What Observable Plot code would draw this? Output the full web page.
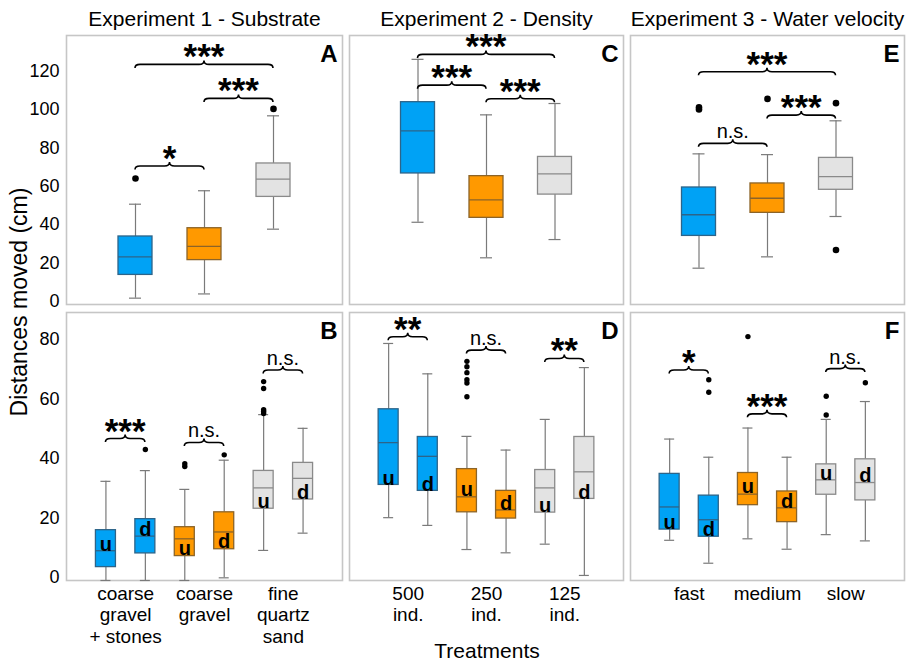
<!DOCTYPE html>
<html><head><meta charset="utf-8">
<script src="https://cdn.jsdelivr.net/npm/d3@7"></script>
<script src="https://cdn.jsdelivr.net/npm/@observablehq/plot@0.6"></script>
<style>
body{margin:0;background:#fff;}
#fig{position:relative;width:906px;height:662px;font-family:"Liberation Sans",Arial,sans-serif;color:#000;overflow:hidden;}
.ylab{position:absolute;left:19px;top:302px;transform:translate(-50%,-50%) rotate(-90deg);font-size:23px;line-height:1;white-space:nowrap;}
.xlab{position:absolute;left:487px;top:650px;transform:translate(-50%,-50%);font-size:21px;line-height:1;white-space:nowrap;}
</style></head><body><div id="fig"><div class="ylab">Distances moved (cm)</div><div class="xlab">Treatments</div></div>
<script>
// ---------- data ----------
const panelTitles = ["Experiment 1 - Substrate", "Experiment 2 - Density", "Experiment 3 - Water velocity"];
const substrates = ["coarse\ngravel\n+ stones", "coarse\ngravel", "fine\nquartz\nsand"];
const densities = ["500\nind.", "250\nind.", "125\nind."];
const velocities = ["fast", "medium", "slow"];
const ticksTop = [0, 20, 40, 60, 80, 100, 120];
const ticksBottom = [0, 20, 40, 60, 80];

// box stats: [low whisker, Q1, median, Q3, high whisker]
const statsA = [[3.3, 15.4, 24.8, 35.4, 52.2], [5.5, 23.1, 30.2, 39.7, 59.2], [39.2, 56.0, 65.2, 73.4, 98.2]];
const outA = [[65.6], [], [101.8]];
const statsC = [[42.8, 68.2, 90.4, 105.3, 127.6], [24.3, 45.1, 54.5, 66.8, 98.7], [33.8, 57.2, 68.0, 76.8, 104.6]];
const outC = [[], [], []];
const statsE = [[18.9, 35.7, 46.7, 60.9, 78.4], [24.8, 47.7, 55.3, 63.0, 78.0], [45.8, 59.7, 66.6, 76.3, 95.6]];
const outE = [[101.5, 102.6], [107.0], [104.8, 28.4]];

// bottom row: u / d pairs per treatment
const statsB = [[0, 4.5, 10.0, 16.9, 33.3], [0, 9.1, 14.9, 20.6, 36.9], [0, 8.2, 14.0, 17.9, 30.6],
                [0.9, 10.5, 16.3, 22.9, 40.4], [10.1, 24.1, 31.1, 36.8, 55.7], [15.9, 27.2, 34.3, 39.5, 51.1]];
const outB = [[], [44.0], [38.3, 39.2], [42.2], [56.1, 56.8, 57.4, 64.5, 66.8], []];
const udB = [12, 17, 10.7, 13, 26.5, 29.5];
const statsD = [[21.1, 32.1, 46.3, 57.5, 79.6], [18.5, 30.1, 41.7, 48.2, 69.4], [10.4, 22.9, 28.1, 37.4, 48.4],
                [9.3, 20.8, 23.7, 30.1, 43.8], [12.2, 22.8, 31.1, 37.1, 54.1], [1.7, 27.4, 36.5, 48.2, 71.5]];
const outD = [[], [], [61.7, 66.3, 67.4, 69.8, 71.8, 73.6], [], [], []];
const udD = [34.3, 32.2, 30.5, 25.9, 25.2, 29.6];
const statsF = [[13.5, 17.1, 24.7, 35.8, 47.5], [5.8, 14.7, 20.4, 28.5, 41.4], [14.0, 25.3, 29.0, 36.1, 51.2],
                [10.5, 19.6, 24.4, 29.9, 41.4], [15.4, 28.8, 33.8, 39.0, 54.1], [13.3, 26.9, 32.9, 40.7, 60.1]];
const outF = [[], [63.2, 67.4], [81.9], [], [55.6, 61.9], [66.4]];
const udF = [19.6, 17.0, 31.6, 26.6, 35.8, 35.2];

// significance brackets: [from box, to box, height, label]
const sigA = [[0, 2, 124.7, "***"], [1, 2, 107, "***"], [0, 1, 71.8, "*"]];
const sigC = [[0, 2, 129.9, "***"], [0, 1, 113.9, "***"], [1, 2, 106.8, "***"]];
const sigE = [[0, 2, 120.9, "***"], [1, 2, 98.3, "***"], [0, 1, 83.6, "n.s."]];
const sigB = [[0, 1, 47.5, "***"], [2, 3, 46.2, "n.s."], [4, 5, 70.5, "n.s."]];
const sigD = [[0, 1, 81.7, "**"], [2, 3, 77.2, "n.s."], [4, 5, 74.4, "**"]];
const sigF = [[0, 1, 70.5, "*"], [2, 3, 55.8, "***"], [4, 5, 71.0, "n.s."]];

// ---------- drawing ----------
const FILL = ["#00a2f5", "#ff9900", "#e3e3e3"];
const EDGE = ["#2d6489", "#8c6428", "#8a8a8a"];
const WHISK = "#7a7a7a";
const ns = "http://www.w3.org/2000/svg";
const fig = document.getElementById("fig");

function braceMark(list, ids) {
  return (index, scales) => {
    const x = scales.x, y = scales.y;
    const off = x.bandwidth ? x.bandwidth() / 2 : 0;
    const g = document.createElementNS(ns, "g");
    for (const [a, b, v, lab] of list) {
      const x1 = x(ids[a]) + off, x2 = x(ids[b]) + off, yy = y(v), xm = (x1 + x2) / 2;
      const e = 3.5, t = 4, r = 5;
      const p = document.createElementNS(ns, "path");
      p.setAttribute("d", `M${x1},${yy + e}Q${x1},${yy} ${x1 + r},${yy}L${xm - r},${yy}Q${xm},${yy} ${xm},${yy - t}Q${xm},${yy} ${xm + r},${yy}L${x2 - r},${yy}Q${x2},${yy} ${x2},${yy + e}`);
      p.setAttribute("fill", "none");
      p.setAttribute("stroke", "#000");
      p.setAttribute("stroke-width", "1.6");
      g.appendChild(p);
      const tx = document.createElementNS(ns, "text");
      tx.setAttribute("x", xm);
      tx.setAttribute("text-anchor", "middle");
      if (lab === "n.s.") {
        tx.setAttribute("y", yy - 5);
        tx.setAttribute("font-size", "20");
      } else {
        tx.setAttribute("y", yy + 4);
        tx.setAttribute("font-size", "35");
        tx.setAttribute("font-weight", "bold");
      }
      tx.textContent = lab;
      g.appendChild(tx);
    }
    return g;
  };
}

function makePanel({stats, outs, ud, sig, letter, x0, y0, w, h, domain, ticks, title, groups}) {
  const pair = stats.length === 6;
  const boxes = stats.map((s, i) => ({
    id: "b" + i, c: pair ? Math.floor(i / 2) : i,
    lo: s[0], q1: s[1], med: s[2], q3: s[3], hi: s[4],
    lab: pair ? (i % 2 ? "d" : "u") : "", ud: ud ? ud[i] : null
  }));
  const ids = boxes.map(d => d.id);
  const n = ids.length, slots = n + 1, step = w / slots;
  const boxPx = pair ? 20 : 34, capPx = pair ? 10 : 12;
  const pi = 1 - boxPx / step, po = (slots - n + pi) / 2;
  const capInset = (boxPx - capPx) / 2;
  const outliers = outs.flatMap((o, i) => o.map(v => ({id: ids[i], v})));

  const marks = [Plot.frame({stroke: "#c6c6c6", strokeWidth: 1.6})];
  marks.push(
    Plot.ruleX(boxes, {x: "id", y1: "lo", y2: "q1", stroke: WHISK, strokeWidth: 1.2}),
    Plot.ruleX(boxes, {x: "id", y1: "q3", y2: "hi", stroke: WHISK, strokeWidth: 1.2}),
    Plot.tickY(boxes, {x: "id", y: "lo", stroke: WHISK, strokeWidth: 1.2, insetLeft: capInset, insetRight: capInset}),
    Plot.tickY(boxes, {x: "id", y: "hi", stroke: WHISK, strokeWidth: 1.2, insetLeft: capInset, insetRight: capInset})
  );
  for (let c = 0; c < 3; c++) {
    const sub = boxes.filter(d => d.c === c);
    marks.push(
      Plot.barY(sub, {x: "id", y1: "q1", y2: "q3", fill: FILL[c], stroke: EDGE[c], strokeWidth: 1.3}),
      Plot.tickY(sub, {x: "id", y: "med", stroke: EDGE[c], strokeWidth: 1.3})
    );
  }
  marks.push(Plot.dot(outliers, {x: "id", y: "v", r: pair ? 2.7 : 3.3, fill: "#000"}));
  if (pair) {
    marks.push(Plot.text(boxes, {x: "id", y: "ud", text: "lab", fontSize: 20, fontWeight: "bold", lineAnchor: "middle", fill: "#000"}));
  }
  marks.push(braceMark(sig, ids));
  marks.push(Plot.text([letter], {frameAnchor: "top-right", textAnchor: "end", lineAnchor: "top", dx: -5, dy: 9, fontSize: 24, fontWeight: "bold", fill: "#000"}));
  if (ticks) {
    marks.push(Plot.text(ticks, {y: d => d, frameAnchor: "left", textAnchor: "end", dx: -7, dy: -3, fontSize: 18, fill: "#000"}));
  }
  if (title) {
    marks.push(Plot.text([title], {frameAnchor: "top", dy: -16, fontSize: 21, lineAnchor: "middle", fill: "#000"}));
  }
  if (groups) {
    marks.push(Plot.text(groups, {x: (d, i) => ids[2 * i], y: () => 0, dx: step / 2, dy: 4, lineAnchor: "top", lineHeight: 1.13, fontSize: 19, fill: "#000"}));
  }

  const svg = Plot.plot({
    width: w, height: h,
    marginTop: 0, marginRight: 0, marginBottom: 0, marginLeft: 0,
    x: {type: "band", domain: ids, paddingInner: pi, paddingOuter: po, round: false, axis: null},
    y: {domain, axis: null},
    style: {fontFamily: "'Liberation Sans', Arial, sans-serif", background: "transparent", overflow: "visible", fontSize: "18px"},
    marks
  });
  svg.style.position = "absolute";
  svg.style.left = x0 + "px";
  svg.style.top = y0 + "px";
  svg.style.overflow = "visible";
  svg.style.background = "transparent";
  svg.style.maxWidth = "none";
  fig.appendChild(svg);
}

const topDomain = [0, 140], botDomain = [0, 90];
makePanel({stats: statsA, outs: outA, sig: sigA, letter: "A", x0: 66, y0: 35, w: 276, h: 269, domain: topDomain, ticks: ticksTop, title: panelTitles[0]});
makePanel({stats: statsC, outs: outC, sig: sigC, letter: "C", x0: 349, y0: 35, w: 274, h: 269, domain: topDomain, title: panelTitles[1]});
makePanel({stats: statsE, outs: outE, sig: sigE, letter: "E", x0: 630, y0: 35, w: 274, h: 269, domain: topDomain, title: panelTitles[2]});
makePanel({stats: statsB, outs: outB, ud: udB, sig: sigB, letter: "B", x0: 66, y0: 312, w: 276, h: 268, domain: botDomain, ticks: ticksBottom, groups: substrates});
makePanel({stats: statsD, outs: outD, ud: udD, sig: sigD, letter: "D", x0: 349, y0: 312, w: 274, h: 268, domain: botDomain, groups: densities});
makePanel({stats: statsF, outs: outF, ud: udF, sig: sigF, letter: "F", x0: 630, y0: 312, w: 274, h: 268, domain: botDomain, groups: velocities});
</script></body></html>
